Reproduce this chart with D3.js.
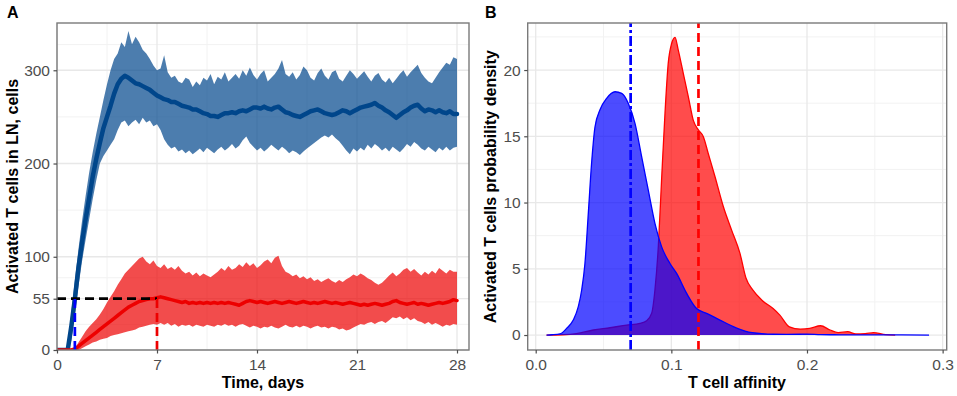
<!DOCTYPE html>
<html>
<head>
<meta charset="utf-8">
<script src="https://cdn.jsdelivr.net/npm/d3@7"></script>
<style>
html, body { margin: 0; padding: 0; background: #fff; }
svg { display: block; font-family: "Liberation Sans", Arial, sans-serif; }
</style>
</head>
<body>
<svg id="fig" width="957" height="396"></svg>
<script>
// ---- Panel A data: activated T cells in LN over time (mean and band) ----
var days = [
  0, 0.25, 0.5, 0.75,   1, 1.25, 1.5, 1.75,   2, 2.25, 2.5, 2.75,   3, 3.25, 3.5, 3.75,
  4, 4.25, 4.5, 4.75,   5, 5.25, 5.5, 5.75,   6, 6.25, 6.5, 6.75,   7, 7.25, 7.5, 7.75,
  8, 8.25, 8.5, 8.75,   9, 9.25, 9.5, 9.75,   10, 10.25, 10.5, 10.75, 11, 11.25, 11.5, 11.75,
  12, 12.25, 12.5, 12.75, 13, 13.25, 13.5, 13.75, 14, 14.25, 14.5, 14.75, 15, 15.25, 15.5, 15.75,
  16, 16.25, 16.5, 16.75, 17, 17.25, 17.5, 17.75, 18, 18.25, 18.5, 18.75, 19, 19.25, 19.5, 19.75,
  20, 20.25, 20.5, 20.75, 21, 21.25, 21.5, 21.75, 22, 22.25, 22.5, 22.75, 23, 23.25, 23.5, 23.75,
  24, 24.25, 24.5, 24.75, 25, 25.25, 25.5, 25.75, 26, 26.25, 26.5, 26.75, 27, 27.25, 27.5, 27.75,
  28
];

var blueMean = [
  0, 0, 0, 0,        25, 55, 88, 115,     140, 163, 186, 205,  222, 238, 250, 262,
  275, 285, 291, 294, 292, 289, 286, 285, 283, 281, 279, 276,  273, 271, 269, 268,
  266, 266, 264, 262, 261, 260, 258, 258, 256, 254, 253, 251,  251, 250, 252, 254,
  254, 255, 254, 256, 257, 256, 258, 260, 260, 259, 261, 259,  258, 260, 261, 258,
  255, 254, 252, 251, 250, 252, 254, 256, 257, 258, 256, 254,  253, 252, 253, 255,
  257, 256, 254, 256, 258, 260, 261, 262, 263, 265, 262, 260,  257, 255, 252, 249,
  252, 255, 257, 260, 262, 263, 259, 256, 258, 257, 255, 257,  255, 254, 256, 253,
  253
];
var blueHigh = [
  0, 0, 0, 0,        40, 75, 108, 138,    165, 190, 212, 232,  250, 268, 285, 300,
  312, 318, 330, 325, 342, 328, 336, 330, 322, 318, 312, 305,  300, 302, 316, 298,
  292, 294, 288, 286, 292, 290, 282, 288, 284, 292, 289, 296,  285, 293, 290, 298,
  288, 292, 296, 291, 300, 294, 303, 295, 290, 296, 300, 288,  292, 296, 302, 311,
  296, 293, 298, 290, 295, 304, 300, 292, 289, 297, 302, 294,  290, 298, 300, 291,
  288, 294, 300, 296, 291, 295, 299, 293, 288, 294, 297, 290,  287, 292, 286, 291,
  296, 300, 293, 298, 302, 306, 297, 292, 288, 286, 292, 298,  303, 308, 306, 314,
  312
];
var blueLow = [
  0, 0, 0, 0,        10, 38, 68, 95,      118, 140, 162, 182,  200, 208, 214, 220,
  226, 236, 244, 246, 240, 244, 247, 242, 249, 244, 246, 240,  242, 236, 226, 220,
  216, 218, 213, 215, 211, 214, 210, 213, 216, 212, 217, 214,  211, 215, 218, 214,
  217, 221, 216, 219, 225, 229, 222, 218, 214, 217, 213, 216,  220, 217, 214, 218,
  215, 211, 214, 212, 209, 213, 216, 219, 222, 225, 228, 230,  228, 231, 227, 224,
  219, 214, 210, 216, 213, 217, 214, 220, 216, 221, 218, 214,  217, 213, 218, 215,
  212, 216, 221, 218, 223, 220, 216, 214, 218, 215, 212, 217,  214, 218, 214, 217,
  218
];

var redMean = [
  0, 0, 0, 0,     0, 1, 4, 7,       10, 13, 16, 19,   22, 25, 28, 31,
  34, 37, 40, 43, 46, 48, 50, 52,   53, 54, 55, 55,   56, 57, 56, 55,
  54, 53, 52, 51, 52, 50, 51, 50,   51, 50, 51, 50,   51, 50, 51, 50,
  51, 50, 49, 48, 50, 52, 53, 52,   51, 52, 51, 50,   51, 52, 51, 50,
  51, 52, 51, 50, 51, 52, 51, 50,   51, 50, 51, 52,   51, 50, 51, 50,
  49, 50, 51, 50, 49, 48, 49, 48,   49, 50, 49, 48,   49, 50, 52, 53,
  51, 50, 49, 50, 51, 49, 50, 49,   48, 49, 50, 51,   50, 51, 52, 54,
  53
];
var redHigh = [
  0, 0, 0, 0,     0, 2, 8, 14,      20, 25, 29, 33,   38, 44, 51, 57,
  63, 70, 76, 82, 86, 90, 94, 98,   100, 95, 92, 96,  90, 88, 92, 87,
  89, 86, 90, 85, 82, 84, 80, 83,   79, 82, 80, 78,   81, 84, 88, 85,
  90, 86, 88, 92, 89, 94, 90, 93,   88, 91, 95, 97,   93, 99, 101, 90,
  84, 82, 79, 81, 77, 79, 76, 78,   74, 76, 73, 75,   77, 74, 72, 75,
  73, 76, 78, 81, 79, 82, 80, 77,   75, 72, 70, 72,   76, 80, 83, 79,
  82, 86, 88, 84, 87, 83, 80, 84,   81, 85, 82, 88,   85, 82, 86, 84,
  84
];
var redLow = [
  0, 0, 0, 0,     0, 0, 0, 2,       4, 6, 8, 9,       11, 12, 13, 15,
  16, 17, 18, 19, 20, 21, 22, 24,   25, 26, 27, 28,   27, 29, 27, 29,
  26, 28, 25, 27, 26, 27, 25, 27,   26, 25, 27, 26,   25, 27, 26, 28,
  26, 27, 25, 27, 28, 26, 24, 26,   25, 23, 25, 24,   26, 24, 23, 25,
  27, 25, 24, 26, 24, 26, 25, 23,   25, 26, 24, 25,   23, 25, 24, 22,
  23, 21, 22, 24, 26, 28, 27, 29,   30, 28, 30, 31,   29, 32, 35, 34,
  36, 33, 35, 32, 34, 31, 30, 28,   30, 27, 29, 27,   25, 27, 26, 28,
  27
];

var cutoffCells = 55;      // dashed horizontal level
var cutoffDay = 7;         // red dashed vertical
var blueOnsetDay = 1.25;   // blue dashed vertical

var xTicksA = [0, 7, 14, 21, 28];
var xMinorA = [3.5, 10.5, 17.5, 24.5];
var yTicksA = [0, 55, 100, 200, 300];
var yMinorA = [27.5, 77.5, 150, 250, 327.5];

// ---- Panel B data: affinity density of activated T cells ----
var blueAff = [0.008, 0.012, 0.0179, 0.0228, 0.0277, 0.0314, 0.0339, 0.0363, 0.0388, 0.0412,
  0.0437, 0.0474, 0.0523, 0.0585, 0.0634, 0.0683, 0.0732, 0.0781, 0.083, 0.0879,
  0.0928, 0.099, 0.1039, 0.1113, 0.1186, 0.126, 0.1358, 0.1457, 0.1506, 0.157,
  0.165, 0.175, 0.185, 0.195, 0.2, 0.21, 0.22, 0.235, 0.25, 0.27, 0.29];
var blueDens = [0, 0.02, 0.08, 0.5, 1.13, 2.14, 3.4, 5.4, 9.2, 12.96,
  15.7, 17.0, 17.86, 18.36, 18.24, 17.48, 15.97, 13.46, 10.94, 8.43,
  6.67, 5.4, 4.65, 3.14, 2.0, 1.64, 1.13, 0.63, 0.43, 0.22,
  0.12, 0.06, 0.05, 0.06, 0.07, 0.03, 0.02, 0.01, 0.01, 0.005, 0];

var redAff = [0.008, 0.02, 0.03, 0.0425, 0.0548, 0.067, 0.0769, 0.0818, 0.0855, 0.0879,
  0.0904, 0.0928, 0.0953, 0.0977, 0.1002, 0.1027, 0.1051, 0.1088, 0.1125, 0.1162,
  0.1198, 0.1236, 0.1272, 0.1322, 0.1383, 0.1445, 0.1506, 0.155, 0.16, 0.167,
  0.175, 0.18, 0.187, 0.195, 0.202, 0.21, 0.217, 0.223, 0.23, 0.236,
  0.243, 0.249, 0.258, 0.265];
var redDens = [0, 0.02, 0.1, 0.38, 0.55, 0.75, 0.88, 1.08, 1.64, 3.4,
  6.67, 11.7, 16.7, 20.5, 22.0, 22.47, 21.5, 19.75, 18.0, 16.2,
  15.5, 14.97, 13.7, 11.95, 9.7, 7.9, 6.16, 4.3, 3.4, 2.6,
  2.0, 1.5, 0.62, 0.45, 0.5, 0.7, 0.38, 0.18, 0.25, 0.08,
  0.1, 0.18, 0.03, 0];

var blueMeanAff = 0.07;
var redMeanAff = 0.12;

var xTicksB = [0.0, 0.1, 0.2, 0.3];
var xMinorB = [0.05, 0.15, 0.25];
var yTicksB = [0, 5, 10, 15, 20];
var yMinorB = [2.5, 7.5, 12.5, 17.5, 22.5];

// ---- colours ----
var navy = "#00468b", red = "#ed0000";

var svg = d3.select("#fig");

// draws background grid, returns a clipped group for the data
function panel(id, x, y, xMajor, xMinor, yMajor, yMinor) {
  var x0 = x.range()[0], x1 = x.range()[1], y0 = y.range()[0], y1 = y.range()[1];
  svg.append("clipPath").attr("id", "clip" + id)
    .append("rect").attr("x", x0).attr("y", y1).attr("width", x1 - x0).attr("height", y0 - y1);

  var g = svg.append("g");
  g.selectAll(".vmin").data(xMinor).enter().append("line")
    .attr("x1", d => x(d)).attr("x2", d => x(d)).attr("y1", y0).attr("y2", y1)
    .attr("stroke", "#f2f2f2").attr("stroke-width", 1);
  g.selectAll(".hmin").data(yMinor).enter().append("line")
    .attr("y1", d => y(d)).attr("y2", d => y(d)).attr("x1", x0).attr("x2", x1)
    .attr("stroke", "#f2f2f2").attr("stroke-width", 1);
  g.selectAll(".vmaj").data(xMajor).enter().append("line")
    .attr("x1", d => x(d)).attr("x2", d => x(d)).attr("y1", y0).attr("y2", y1)
    .attr("stroke", "#e8e8e8").attr("stroke-width", 1.3);
  g.selectAll(".hmaj").data(yMajor).enter().append("line")
    .attr("y1", d => y(d)).attr("y2", d => y(d)).attr("x1", x0).attr("x2", x1)
    .attr("stroke", "#e8e8e8").attr("stroke-width", 1.3);

  return svg.append("g").attr("clip-path", "url(#clip" + id + ")");
}

function frame(x, y, xMajor, yMajor, xFmt, yFmt) {
  var x0 = x.range()[0], x1 = x.range()[1], y0 = y.range()[0], y1 = y.range()[1];
  svg.append("rect").attr("x", x0).attr("y", y1).attr("width", x1 - x0).attr("height", y0 - y1)
    .attr("fill", "none").attr("stroke", "#7a7a7a").attr("stroke-width", 1.4);

  var ax = svg.append("g").attr("transform", "translate(0," + y0 + ")")
    .call(d3.axisBottom(x).tickValues(xMajor).tickFormat(xFmt).tickSize(3.5).tickPadding(5));
  var ay = svg.append("g").attr("transform", "translate(" + x0 + ",0)")
    .call(d3.axisLeft(y).tickValues(yMajor).tickFormat(yFmt).tickSize(3.5).tickPadding(3.5));
  [ax, ay].forEach(function(a) {
    a.select(".domain").remove();
    a.selectAll(".tick line").attr("stroke", "#4d4d4d").attr("stroke-width", 1.2);
    a.selectAll(".tick text").attr("fill", "#4d4d4d")
      .style("font-size", "15.5px").style("font-family", "'Liberation Sans', Arial, sans-serif");
  });
}

function titles(label, labelX, xTitle, xCenter, yTitle, yBase, yCenter) {
  svg.append("text").attr("x", labelX).attr("y", 17.5).text(label)
    .style("font-size", "16px").style("font-weight", "bold");
  svg.append("text").attr("x", xCenter).attr("y", 388).attr("text-anchor", "middle").text(xTitle)
    .style("font-size", "16px").style("font-weight", "bold");
  svg.append("text").attr("transform", "translate(" + yBase + "," + yCenter + ") rotate(-90)")
    .attr("text-anchor", "middle").text(yTitle)
    .style("font-size", "16px").style("font-weight", "bold");
}

// ================= Panel A =================
var xA = d3.scaleLinear().domain([0, 28.84]).range([57, 469]);
var yA = d3.scaleLinear().domain([0, 350.7]).range([350, 23]);

var gA = panel("A", xA, yA, xTicksA, xMinorA, yTicksA, yMinorA);

function band(lo, hi) {
  return d3.area()
    .x((d, i) => xA(days[i]))
    .y0((d, i) => yA(lo[i]))
    .y1((d, i) => yA(hi[i]));
}
function meanLine(vals) {
  return d3.line().x((d, i) => xA(days[i])).y((d, i) => yA(vals[i]));
}

gA.append("path").datum(days).attr("d", band(blueLow, blueHigh))
  .attr("fill", navy).attr("fill-opacity", 0.7);
gA.append("path").datum(days).attr("d", band(redLow, redHigh))
  .attr("fill", red).attr("fill-opacity", 0.7);
gA.append("path").datum(days).attr("d", meanLine(blueMean))
  .attr("fill", "none").attr("stroke", navy).attr("stroke-width", 4.5)
  .attr("stroke-linejoin", "round").attr("stroke-linecap", "round");
gA.append("path").datum(days).attr("d", meanLine(redMean))
  .attr("fill", "none").attr("stroke", red).attr("stroke-width", 3.5)
  .attr("stroke-linejoin", "round").attr("stroke-linecap", "round");

gA.append("line").attr("x1", xA(0)).attr("x2", xA(cutoffDay))
  .attr("y1", yA(cutoffCells)).attr("y2", yA(cutoffCells))
  .attr("stroke", "#000").attr("stroke-width", 2.7).attr("stroke-dasharray", "9,5");
gA.append("line").attr("x1", xA(cutoffDay)).attr("x2", xA(cutoffDay))
  .attr("y1", yA(0)).attr("y2", yA(cutoffCells))
  .attr("stroke", red).attr("stroke-width", 2.7).attr("stroke-dasharray", "9,5");
gA.append("line").attr("x1", xA(blueOnsetDay)).attr("x2", xA(blueOnsetDay))
  .attr("y1", yA(0)).attr("y2", yA(cutoffCells))
  .attr("stroke", "#0000ff").attr("stroke-width", 2.7).attr("stroke-dasharray", "9,5");

frame(xA, yA, xTicksA, yTicksA, d => d, d => d);
titles("A", 7, "Time, days", 263, "Activated T cells in LN, cells", 18, 186.5);

// ================= Panel B =================
var xB = d3.scaleLinear().domain([-0.0059, 0.303]).range([527.7, 946.7]);
var yB = d3.scaleLinear().domain([-1.13, 23.55]).range([350, 23]);

var gB = panel("B", xB, yB, xTicksB, xMinorB, yTicksB, yMinorB);

function density(aff, dens, col) {
  var pts = aff.map((a, i) => [a, dens[i]]);
  gB.append("path").datum(pts)
    .attr("d", d3.area().curve(d3.curveMonotoneX)
      .x(d => xB(d[0])).y0(yB(0)).y1(d => yB(d[1])))
    .attr("fill", col).attr("fill-opacity", 0.7);
  gB.append("path").datum(pts)
    .attr("d", d3.line().curve(d3.curveMonotoneX).x(d => xB(d[0])).y(d => yB(d[1])))
    .attr("fill", "none").attr("stroke", col).attr("stroke-width", 1.3);
}
density(redAff, redDens, "#ff0000");
density(blueAff, blueDens, "#0000ff");

gB.append("line").attr("x1", xB(blueMeanAff)).attr("x2", xB(blueMeanAff))
  .attr("y1", yB.range()[0]).attr("y2", yB.range()[1])
  .attr("stroke", "#0000ff").attr("stroke-width", 2.7).attr("stroke-dasharray", "10,3,3,3");
gB.append("line").attr("x1", xB(redMeanAff)).attr("x2", xB(redMeanAff))
  .attr("y1", yB.range()[0]).attr("y2", yB.range()[1])
  .attr("stroke", "#ff0000").attr("stroke-width", 2.7).attr("stroke-dasharray", "9,5");

frame(xB, yB, xTicksB, yTicksB, d3.format(".1f"), d => d);
titles("B", 485, "T cell affinity", 737, "Activated T cells probability density", 495.7, 186.7);
</script>
</body>
</html>
